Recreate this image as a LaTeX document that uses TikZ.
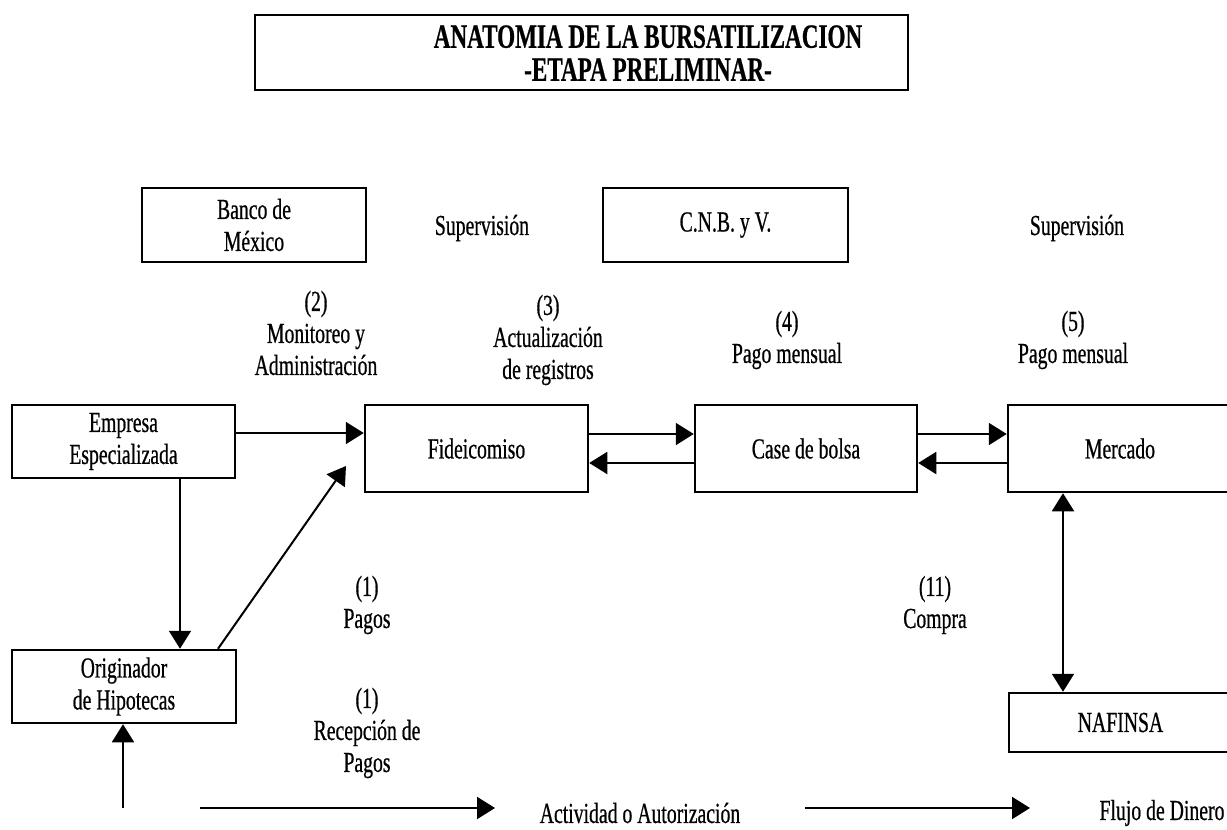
\documentclass[tikz,border=0pt]{standalone}
\usepackage{fontspec}
\setmainfont{Liberation Serif}[FakeStretch=0.68, FakeBold=0.6]
\usetikzlibrary{arrows.meta}
\begin{document}
\begin{tikzpicture}[x=1pt,y=-1pt,
  every node/.style={font=\fontsize{29}{32}\selectfont, align=center, inner sep=0pt},
  box/.style={draw, line width=2.5pt},
  arr/.style={line width=2pt, -{Triangle[length=18pt,width=22pt]}},
  darr/.style={line width=2pt, {Triangle[length=18pt,width=22pt]}-{Triangle[length=18pt,width=22pt]}}]
\useasboundingbox (0,0) rectangle (1227,830);

% title frame and heading
\node[box, minimum width=653pt, minimum height=75pt] (title) at (581.5,52.5) {};
\node[font=\fontsize{34}{33}\selectfont\bfseries] (titletext) at (648,53)
  {ANATOMIA DE LA BURSATILIZACION\\-ETAPA PRELIMINAR-};

% supervising bodies
\node[box, minimum width=224pt, minimum height=74pt] (banxico) at (254,225) {Banco de\\México};
\node (sup1) at (482,228) {Supervisión};
\node[box, minimum width=245pt, minimum height=74pt] (cnbv) at (725.5,225) {C.N.B. y V.};
\node (sup2) at (1077,228) {Supervisión};

% step labels
\node (l2) at (316,333) {(2)\\Monitoreo y\\Administración};
\node (l3) at (548,340) {(3)\\Actualización\\de registros};
\node (l4) at (787,340) {(4)\\Pago mensual};
\node (l5) at (1073,340) {(5)\\Pago mensual};
\node (l1a) at (367,605) {(1)\\Pagos};
\node (l1b) at (367,733) {(1)\\Recepción de\\Pagos};
\node (l11) at (935,605) {(11)\\Compra};

% participants
\node[box, minimum width=223pt, minimum height=73pt] (empresa) at (123.5,441.5) {Empresa\\Especializada};
\node[box, minimum width=223pt, minimum height=87pt] (fid) at (476.5,448.5) {Fideicomiso};
\node[box, minimum width=222pt, minimum height=87pt] (casa) at (806,448.5) {Case de bolsa};
\node[box, minimum width=224pt, minimum height=87pt] (mercado) at (1120,448.5) {Mercado};
\node[box, minimum width=223pt, minimum height=59pt] (nafinsa) at (1120.5,722.5) {NAFINSA};
\node[box, minimum width=224pt, minimum height=73pt] (orig) at (124,686.5) {Originador\\de Hipotecas};

% flows
\draw[arr] (empresa.east |- 0,433) -- (fid.west |- 0,433);
\draw[arr] (empresa.south -| 180,0) -- (orig.north -| 180,0);
\coordinate (diagend) at (346,466);
\draw[arr] (orig.north -| 218,0) -- (diagend);
\draw[arr] (fid.east |- 0,434) -- (casa.west |- 0,434);
\draw[arr] (casa.west |- 0,463) -- (fid.east |- 0,463);
\draw[arr] (casa.east |- 0,434) -- (mercado.west |- 0,434);
\draw[arr] (mercado.west |- 0,463) -- (casa.east |- 0,463);
\draw[darr] (mercado.south -| 1063,0) -- (nafinsa.north -| 1063,0);
\coordinate (upstart) at (123,808);
\draw[arr] (upstart) -- (orig.south -| upstart);

% legend
\coordinate (leg1a) at (200,808);
\coordinate (leg1b) at (495,808);
\draw[arr] (leg1a) -- (leg1b);
\node (leg1t) at (640,813) {Actividad o Autorización};
\coordinate (leg2a) at (805,808);
\coordinate (leg2b) at (1030,808);
\draw[arr] (leg2a) -- (leg2b);
\node (leg2t) at (1162,813) {Flujo de Dinero};
\end{tikzpicture}
\end{document}
